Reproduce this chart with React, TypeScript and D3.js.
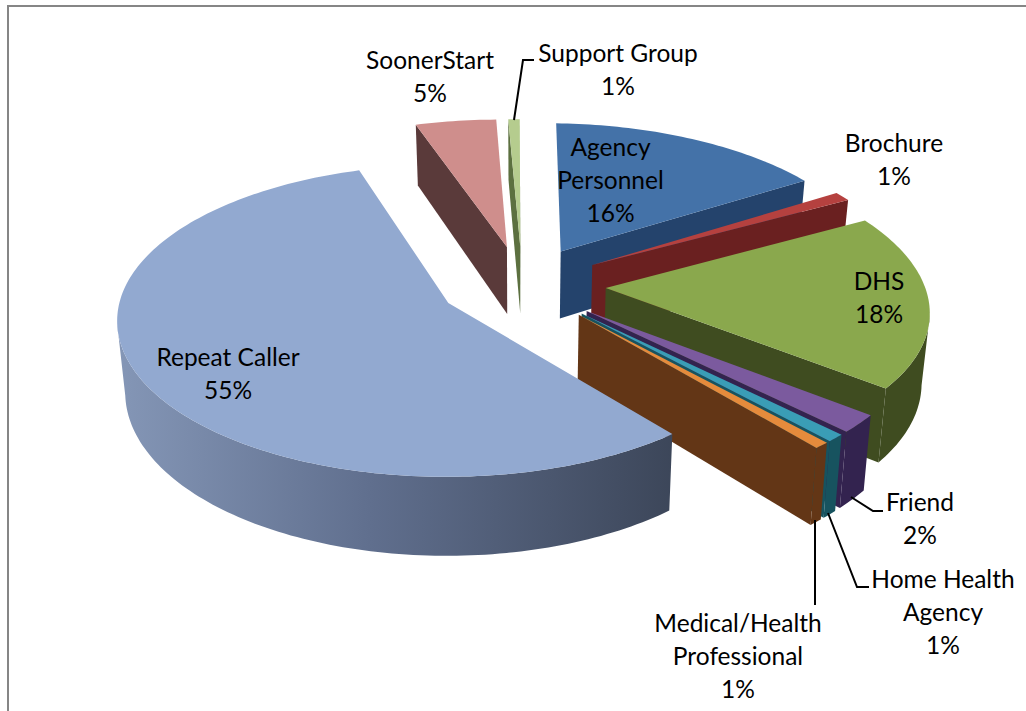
import React from "react";
import * as d3 from "d3";

const categories = ["Agency Personnel","Brochure","DHS","Friend","Home Health Agency","Medical/Health Professional","Repeat Caller","SoonerStart","Support Group"];
const shares = [15.75,1.0,18.65,1.95,0.82,0.68,55.9,4.6,0.65];
const pctLabels = ["16%","1%","18%","2%","1%","1%","55%","5%","1%"];
const topColors = ["#4472A8","#B5413F","#8AA84D","#7B5A9E","#3A9DB6","#E58B3C","#92A9D0","#CF8E8C","#B5CC8E"];
const wallColors = ["#24436C","#6A2020","#3F4C20","#33234F","#17535F","#633616","url(#wall)","#5A3A3A","#5C7040"];
const labelLines = [["Agency","Personnel"],["Brochure"],["DHS"],["Friend"],["Home Health","Agency"],["Medical/Health","Professional"],["Repeat Caller"],["SoonerStart"],["Support Group"]];
const labelPos: [number,number][] = [[610.5,156],[894,152],[879,290],[920,511],[943,588],[738,632],[228,366],[430,69],[618,62]];
const leaders: [number,number][][] = [
  [[514,120],[523,60],[534,60]],
  [[851,497],[873,511],[883,511]],
  [[828,513],[857,587],[869,587]],
  [[815,520],[815,605]],
];

const W=1026,H=711;
const OX=450,OY=303,RX=327,RY=154,K=0.114,KX=0.006,DEPTH=70;
const CENTER=[0.224,0.123],EXPLODE=0.26;
const VP=520,BOTTOM_SHRINK=0.02;

function proj(X:number,Y:number,bottom=false):[number,number]{
  const s=1/(1+K*Y+KX*X);
  const x=OX+RX*X*s, y=OY-RY*Y*s;
  if(!bottom) return [x,y];
  return [x-(x-VP)*BOTTOM_SHRINK,y+DEPTH*s];
}

const pie=d3.pie<number>().sort(null).startAngle(1.3*Math.PI/180).endAngle(361.3*Math.PI/180);
const arcs=pie(shares);
const line=d3.line();

export default function App(){
  const slices=arcs.map((a,i)=>{
    const mid=(a.startAngle+a.endAngle)/2;
    const ax=CENTER[0]+EXPLODE*Math.sin(mid), ay=CENTER[1]+EXPLODE*Math.cos(mid);
    const n=Math.max(4,Math.ceil((a.endAngle-a.startAngle)/0.02));
    const pts=d3.range(n+1).map(k=>{
      const t=a.startAngle+(a.endAngle-a.startAngle)*k/n;
      return [ax+Math.sin(t),ay+Math.cos(t)] as [number,number];
    });
    const top=[proj(ax,ay),...pts.map(p=>proj(p[0],p[1]))];
    const walls:string[]=[];
    const quad=(p:[number,number],q:[number,number])=>line([proj(p[0],p[1]),proj(q[0],q[1]),proj(q[0],q[1],true),proj(p[0],p[1],true)])+"Z";
    if(Math.sin(a.startAngle)<0) walls.push(quad([ax,ay],pts[0]));
    if(Math.sin(a.endAngle)>0) walls.push(quad([ax,ay],pts[n]));
    const vis=pts.filter((p,k)=>{
      const q=pts[Math.min(k+1,n)], r=pts[Math.max(k-1,0)];
      return proj(q[0],q[1])[0]<proj(r[0],r[1])[0];
    });
    if(vis.length>1){
      const u=vis.map(p=>proj(p[0],p[1]));
      const b=vis.map(p=>proj(p[0],p[1],true)).reverse();
      walls.push(line([...u,...b])+"Z");
    }
    return {i,top:line(top)+"Z",walls};
  });
  return (
    <svg width={W} height={H} style={{position:"absolute",left:0,top:0,display:"block",background:"#fff"}}>
      <defs>
        <linearGradient id="wall" gradientUnits="userSpaceOnUse" x1={120} x2={675} y1={0} y2={0}>
          <stop offset="0" stopColor="#8496B6"/>
          <stop offset="0.45" stopColor="#606F8E"/>
          <stop offset="1" stopColor="#3C4659"/>
        </linearGradient>
      </defs>
      <rect x={7} y={5} width={2} height={H-5} fill="#868686"/>
      <rect x={7} y={5} width={W-7} height={2} fill="#868686"/>
      {slices.map(s=>(
        <g key={s.i}>
          {s.walls.map((d,j)=><path key={j} d={d} fill={wallColors[s.i]}/>)}
          <path d={s.top} fill={topColors[s.i]}/>
        </g>
      ))}
      {leaders.map((l,i)=><path key={i} d={line(l)!} fill="none" stroke="#000" strokeWidth={2}/>)}
      {categories.map((c,i)=>{
        const lines=[...labelLines[i],pctLabels[i]];
        return <text key={c} x={labelPos[i][0]} y={labelPos[i][1]} textAnchor="middle" fontFamily="Lato" fontSize={24.5} fill="#000">
          {lines.map((t,k)=><tspan key={k} x={labelPos[i][0]} dy={k?33:0}>{t}</tspan>)}
        </text>;
      })}
    </svg>
  );
}
